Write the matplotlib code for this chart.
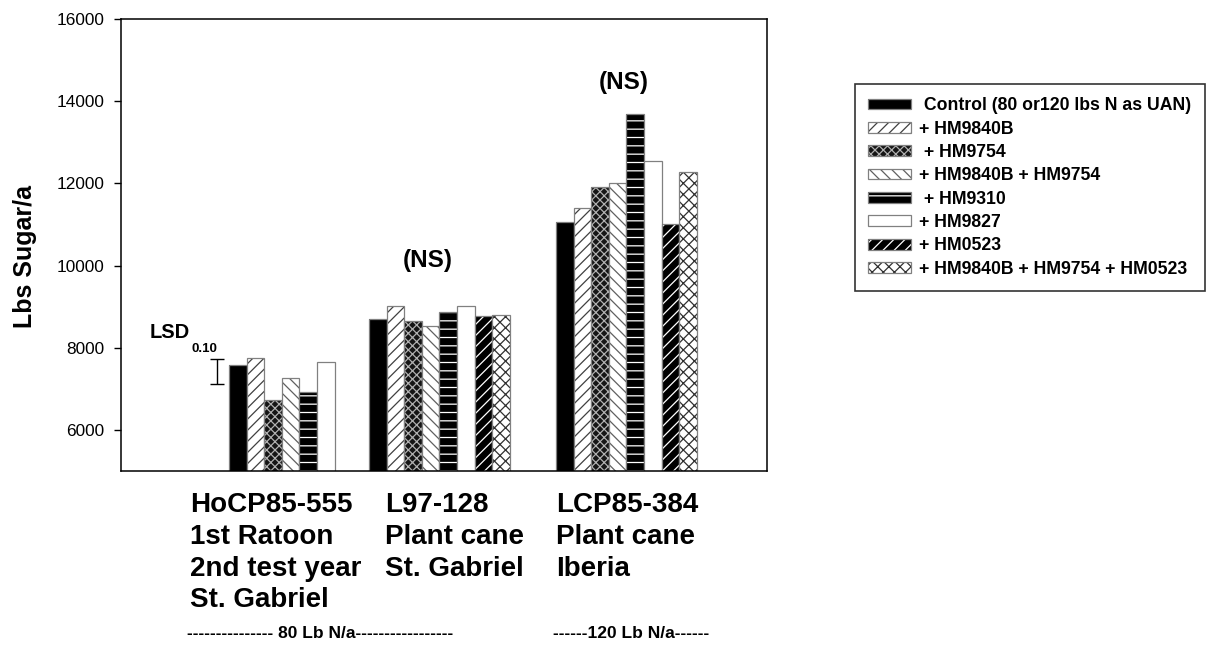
import numpy as np
import matplotlib
matplotlib.use("Agg")
import matplotlib.pyplot as plt
from matplotlib.patches import Patch

# ---------------- data ----------------
groups = ["HoCP85-555\n1st Ratoon\n2nd test year\nSt. Gabriel",
          "L97-128\nPlant cane\nSt. Gabriel",
          "LCP85-384\nPlant cane\nIberia"]
series = [" Control (80 or120 lbs N as UAN)", "+ HM9840B", " + HM9754",
          "+ HM9840B + HM9754", " + HM9310", "+ HM9827", "+ HM0523",
          "+ HM9840B + HM9754 + HM0523"]
nan = np.nan
control   = [7570, 8690, 11050]
hm9840b   = [7750, 9010, 11400]
hm9754    = [6720, 8640, 11900]
hm9840b_9754 = [7260, 8520, 12000]
hm9310    = [6930, 8880, 13700]
hm9827    = [7660, 9010, 12540]
hm0523    = [nan, 8780, 11020]
hm_combo  = [nan, 8800, 12270]
values = [control, hm9840b, hm9754, hm9840b_9754, hm9310, hm9827, hm0523, hm_combo]
yticks = [6000, 8000, 10000, 12000, 14000, 16000]
lsd_center = 7427
lsd_half = 305
ns_labels = ["(NS)", "(NS)"]
nrate_labels = ["--------------- 80 Lb N/a-----------------", "------120 Lb N/a------"]

# ---------------- style ----------------
W, H, DPI = 1211, 645, 100
plt.rcParams['font.family'] = ['Liberation Sans', 'DejaVu Sans']
plt.rcParams['hatch.linewidth'] = 0.9

styles = [  # facecolor, hatch, hatchcolor
    ('black', None, 'black'),
    ('white', '///', '#404040'),
    ('#151515', 'xxxx', '#b0b0b0'),
    ('white', '\\\\\\', '#606060'),
    ('black', '--', 'white'),
    ('white', None, 'white'),
    ('black', '///', 'white'),
    ('white', 'xxx', '#303030'),
]
edge = '#808080'

fig = plt.figure(figsize=(W / DPI, H / DPI), dpi=DPI)

def fx(px):
    return px / W

def fy(py):
    return 1 - py / H

ax_l, ax_r, ax_t, ax_b = 121, 767, 19, 471
ax = fig.add_axes([fx(ax_l), fy(ax_b), fx(ax_r - ax_l), fy(ax_t) - fy(ax_b)])

barw_px = 17.6
ax.set_xlim(0, (ax_r - ax_l) / barw_px)
ax.set_ylim(5000, 16000)
group_left_px = [229, 369, 556]
group_left = [(p - ax_l) / barw_px for p in group_left_px]

handles = []
for i, vals in enumerate(values):
    fc, hatch, hc = styles[i]
    xs = [g + i + 0.5 for g in group_left]
    ax.bar(xs, vals, width=1.0, facecolor=fc, edgecolor=hc, hatch=hatch, linewidth=0)
    ax.bar(xs, vals, width=1.0, facecolor='none', edgecolor=edge, linewidth=0.9)
    p1 = Patch(facecolor=fc, edgecolor=hc, hatch=hatch, linewidth=0)
    p2 = Patch(facecolor='none', edgecolor=edge, linewidth=0.9)
    handles.append((p1, p2))

# LSD bar
lsd_x = (217 - ax_l) / barw_px
ax.errorbar([lsd_x], [lsd_center], yerr=[lsd_half], fmt='none', ecolor='black',
            elinewidth=1.0, capsize=5, capthick=1.0)
fig.text(fx(150), fy(338), "LSD", fontsize=14.5, fontweight='bold', ha='left', va='baseline')
fig.text(fx(191), fy(352), "0.10", fontsize=9.5, fontweight='bold', ha='left', va='baseline')

# NS labels
fig.text(fx(428), fy(261), ns_labels[0], fontsize=17.5, fontweight='bold', ha='center', va='center')
fig.text(fx(624), fy(82), ns_labels[1], fontsize=17.5, fontweight='bold', ha='center', va='center')

# axes styling
ax.set_xticks([])
ax.set_yticks(yticks)
ax.set_yticklabels([str(v) for v in yticks], fontsize=12.4)
ax.tick_params(axis='y', direction='out', length=5, width=1, pad=7)
for s in ax.spines.values():
    s.set_linewidth(1.1)
    s.set_color('black')

fig.text(fx(25), fy(257), "Lbs Sugar/a", rotation=90, fontsize=18, fontweight='bold',
         ha='center', va='center')

# group labels
label_left_px = [190, 385, 556]
for lab, lx in zip(groups, label_left_px):
    fig.text(fx(lx), fy(492), lab, fontsize=20, fontweight='bold', ha='left', va='top',
             linespacing=1.29)

fig.text(fx(187), fy(634), nrate_labels[0], fontsize=12.5, fontweight='bold', ha='left', va='center')
fig.text(fx(553), fy(634), nrate_labels[1], fontsize=12.5, fontweight='bold', ha='left', va='center')

leg = fig.legend(handles, series, loc='upper left', bbox_to_anchor=(fx(855), fy(84)),
                 bbox_transform=fig.transFigure, frameon=True, fancybox=False,
                 prop={'weight': 'bold', 'size': 12.7}, handlelength=2.4, handleheight=0.57,
                 labelspacing=0.36, handletextpad=0.5, borderpad=0.75, borderaxespad=0)
leg.get_frame().set_edgecolor('black')
leg.get_frame().set_linewidth(1.2)

fig.savefig("out.png", dpi=DPI)
